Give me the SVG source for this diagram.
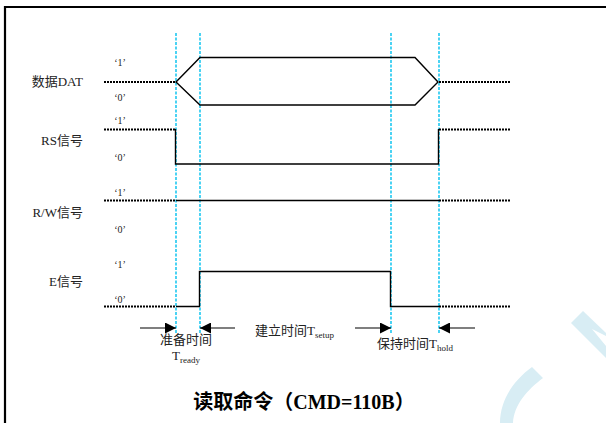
<svg xmlns="http://www.w3.org/2000/svg" width="606" height="423" viewBox="0 0 606 423">
<style>
.lbl{font-family:"Liberation Serif","Noto Sans CJK SC",serif;font-size:13px;fill:#222}
.lv{font-family:"Liberation Serif",serif;font-size:10px;fill:#222}
.title{font-family:"Liberation Serif","Noto Sans CJK SC",serif;font-size:20px;font-weight:bold;fill:#000}
.dot{stroke:#000;stroke-width:2;stroke-dasharray:2,1;fill:none}
.sig{stroke:#000;stroke-width:1.4;fill:none}
.guide{stroke:#1ec8f0;stroke-width:1.6;stroke-dasharray:3,1.5;fill:none}
.arr{stroke:#000;stroke-width:1.2;fill:none}
.wm{fill:#d8edf4}
</style>
<defs>
<marker id="ah" viewBox="0 0 10 10" refX="10" refY="5" markerWidth="17" markerHeight="11" markerUnits="userSpaceOnUse" orient="auto"><path d="M0,0 L10,5 L0,10 Z" fill="#000"/></marker>
</defs>
<rect x="0" y="0" width="606" height="423" fill="#fff"/>
<!-- watermark -->
<path class="wm" d="M500,423 C500,400 514,380 532,367 L543,378 C527,390 514,405 513,423 Z"/>
<path class="wm" d="M571,323 L583,311 L606,333 L606,358 Z"/>
<path d="M592,329 L606,336 L606,346 Z" fill="#fff"/>
<!-- frame -->
<path d="M5,423 L5,7 L606,7" stroke="#000" stroke-width="2.2" fill="none"/>
<g id="guides">
<line class="guide" x1="176" y1="33" x2="176" y2="333"/>
<line class="guide" x1="200" y1="33" x2="200" y2="333"/>
<line class="guide" x1="391" y1="33" x2="391" y2="333"/>
<line class="guide" x1="439" y1="33" x2="439" y2="333"/>
</g>
<g id="dat">
<text class="lbl" x="83" y="86" text-anchor="end">数据DAT</text>
<text class="lv" x="120" y="66" text-anchor="middle">‘1’</text>
<text class="lv" x="120" y="101" text-anchor="middle">‘0’</text>
<line class="dot" x1="104" y1="82" x2="176" y2="82"/>
<path class="sig" d="M176,82 L200,57.5 L415,57.5 L438,82 L415,105 L200,105 Z"/>
<line class="dot" x1="439" y1="82" x2="510" y2="82"/>
</g>
<g id="rs">
<text class="lbl" x="83" y="145" text-anchor="end">RS信号</text>
<text class="lv" x="120" y="124" text-anchor="middle">‘1’</text>
<text class="lv" x="120" y="161" text-anchor="middle">‘0’</text>
<line class="dot" x1="104" y1="129.5" x2="175" y2="129.5"/>
<path class="sig" d="M175.5,129 L175.5,164 L438.5,164 L438.5,129"/>
<line class="dot" x1="439" y1="129.5" x2="510" y2="129.5"/>
</g>
<g id="rw">
<text class="lbl" x="83" y="217" text-anchor="end">R/W信号</text>
<text class="lv" x="120" y="196" text-anchor="middle">‘1’</text>
<text class="lv" x="120" y="233" text-anchor="middle">‘0’</text>
<line class="dot" x1="104" y1="200.5" x2="176" y2="200.5"/>
<line class="sig" x1="176" y1="200.5" x2="439" y2="200.5"/>
<line class="dot" x1="439" y1="200.5" x2="510" y2="200.5"/>
</g>
<g id="e">
<text class="lbl" x="83" y="286" text-anchor="end">E信号</text>
<text class="lv" x="120" y="268" text-anchor="middle">‘1’</text>
<text class="lv" x="120" y="303" text-anchor="middle">‘0’</text>
<line class="dot" x1="104" y1="306.5" x2="176" y2="306.5"/>
<path class="sig" d="M176,306.5 L199.5,306.5 L199.5,271.5 L390.5,271.5 L390.5,306.5 L439,306.5"/>
<line class="dot" x1="439" y1="306.5" x2="510" y2="306.5"/>
</g>
<g id="connectors">
<line class="arr" x1="140" y1="328" x2="176" y2="328" marker-end="url(#ah)"/>
<line class="arr" x1="235" y1="328" x2="200" y2="328" marker-end="url(#ah)"/>
<line class="arr" x1="355" y1="328" x2="391" y2="328" marker-end="url(#ah)"/>
<line class="arr" x1="475" y1="328" x2="439" y2="328" marker-end="url(#ah)"/>
</g>
<g id="labels">
<text class="lbl" x="186" y="344" text-anchor="middle">准备时间</text>
<text class="lbl" x="186" y="360" text-anchor="middle">T<tspan font-size="9" dy="3">ready</tspan></text>
<text class="lbl" x="255" y="335">建立时间T<tspan font-size="9" dy="3">setup</tspan></text>
<text class="lbl" x="377" y="348">保持时间T<tspan font-size="9" dy="3">hold</tspan></text>
</g>
<text class="title" x="304" y="409" text-anchor="middle">读取命令（CMD=110B）</text>
</svg>
